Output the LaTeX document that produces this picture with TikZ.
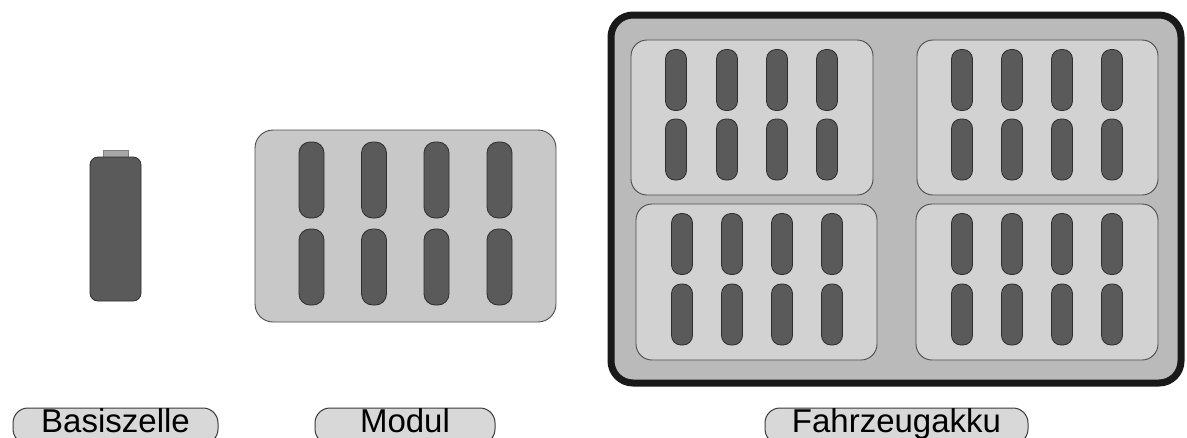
\documentclass[tikz,border=0pt]{standalone}
\usepackage{fontspec}
\setmainfont{Liberation Sans}
\definecolor{outerfill}{HTML}{BABABA}
\definecolor{innerfill}{HTML}{D2D2D2}
\definecolor{modfill}{HTML}{C8C8C8}
\definecolor{cellfill}{HTML}{5A5A5A}
\definecolor{celldraw}{HTML}{2E2E2E}
\definecolor{capfill}{HTML}{A8A8A8}
\definecolor{lblfill}{HTML}{D8D8D8}
\definecolor{lbldraw}{HTML}{3A3A3A}
\tikzset{
  cellbox/.style={draw=celldraw, fill=cellfill, line width=0.8pt, rounded corners=10pt, inner sep=0pt},
  capbox/.style={draw=celldraw, fill=cellfill, line width=0.6pt, inner sep=0pt, minimum height=3pt},
  bigcap/.style={draw=gray, fill=capfill, line width=0.6pt, inner sep=0pt},
  modbox/.style={draw=black!70, fill=modfill, line width=0.9pt, rounded corners=18pt, inner sep=0pt},
  innermod/.style={draw=black!70, fill=innerfill, line width=0.9pt, rounded corners=16pt, inner sep=0pt},
  packbox/.style={draw=black!90, fill=outerfill, line width=7pt, rounded corners=22pt, inner sep=0pt},
  lblbox/.style={draw=lbldraw, fill=lblfill, line width=1pt, rounded corners=15pt, inner sep=0pt,
    text height=24pt, text depth=12pt, anchor=base, font=\fontsize{33}{36}\selectfont}
}
\newcommand\batcell[7]{%
  \node[capbox, minimum width=#6, anchor=south] (#1cap) at (#2,#3-#5/2+1) {};
  \node[cellbox, rounded corners=#7, minimum width=#4, minimum height=#5] (#1) at (#2,#3) {};
}
\begin{document}
\begin{tikzpicture}[x=1pt,y=-1pt]
\useasboundingbox (0,0) rectangle (1187,437);
\clip (0,0) rectangle (1187,437);
\fill[white] (0,0) rectangle (1187,437);

% Basiszelle
\node[bigcap, minimum width=25pt, minimum height=7pt, anchor=south] (bzcap) at (115.5,158) {};
\node[cellbox, rounded corners=8pt, minimum width=51pt, minimum height=144pt] (bz) at (115.5,229) {};

% Modul
\node[modbox, minimum width=301pt, minimum height=192pt] (mod) at (405.5,226) {};
\foreach \x [count=\i] in {311.5,374,436.5,499.5}{
  \batcell{m1\i}{\x}{180}{25pt}{76pt}{12pt}{11pt}
  \batcell{m2\i}{\x}{267}{25pt}{76pt}{12pt}{11pt}
}

% Fahrzeugakku
\node[packbox, minimum width=570pt, minimum height=368pt] (pack) at (896,199) {};
\node[innermod, minimum width=242pt, minimum height=155pt] (tl) at (752,117.5) {};
\node[innermod, minimum width=241pt, minimum height=155pt] (tr) at (1037.5,117.5) {};
\node[innermod, minimum width=241pt, minimum height=156pt] (bl) at (756.5,282) {};
\node[innermod, minimum width=242pt, minimum height=156pt] (br) at (1037,282) {};
\foreach \x [count=\i] in {676,727,777,827}{
  \batcell{tla\i}{\x}{80}{21pt}{61pt}{10pt}{9.5pt}
  \batcell{tlb\i}{\x}{149.5}{21pt}{61pt}{10pt}{9.5pt}
}
\foreach \x [count=\i] in {962,1012,1062,1112}{
  \batcell{tra\i}{\x}{80}{21pt}{61pt}{10pt}{9.5pt}
  \batcell{trb\i}{\x}{149.5}{21pt}{61pt}{10pt}{9.5pt}
}
\foreach \x [count=\i] in {682,732,782,832}{
  \batcell{bla\i}{\x}{244}{21pt}{61pt}{10pt}{9.5pt}
  \batcell{blb\i}{\x}{314.5}{21pt}{61pt}{10pt}{9.5pt}
}
\foreach \x [count=\i] in {962,1012,1062,1112}{
  \batcell{bra\i}{\x}{244}{21pt}{61pt}{10pt}{9.5pt}
  \batcell{brb\i}{\x}{314.5}{21pt}{61pt}{10pt}{9.5pt}
}

% Labels
\node[lblbox, minimum width=205pt] (lbz) at (115.5,432) {Basiszelle};
\node[lblbox, minimum width=180pt] (lmod) at (405,432) {Modul};
\node[lblbox, minimum width=263pt] (lpack) at (896.5,432) {Fahrzeugakku};
\end{tikzpicture}
\end{document}
